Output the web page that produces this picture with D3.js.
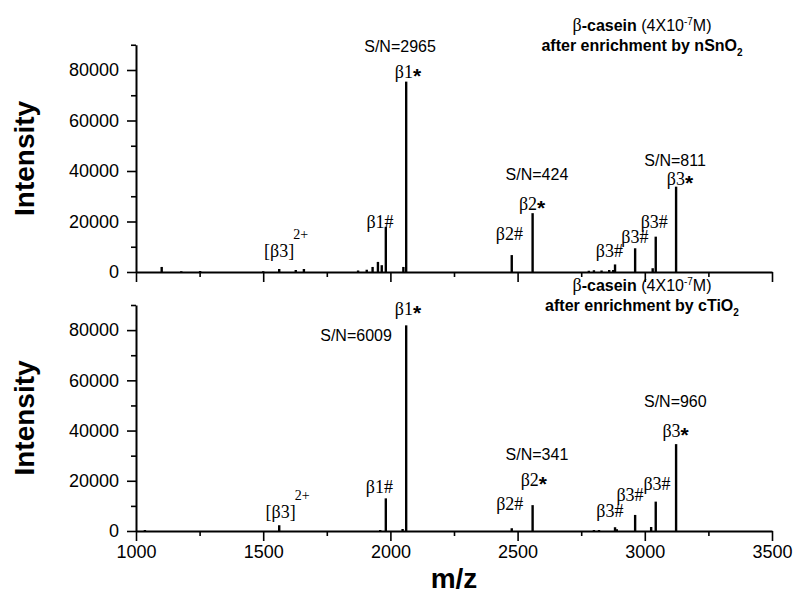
<!DOCTYPE html>
<html>
<head>
<meta charset="utf-8">
<script src="https://cdn.jsdelivr.net/npm/d3@7/dist/d3.min.js"></script>
<style>
  body { margin: 0; background: #fff; }
  text { fill: #000; }
  .serif { font-family: "Liberation Serif", "Times New Roman", Times, serif; }
  .sans { font-family: "Liberation Sans", Arial, Helvetica, sans-serif; }
</style>
</head>
<body>
<svg id="chart" width="794" height="607"></svg>
<script>
// Peaks (m/z, intensity)
var topMz  = [1101, 1178, 1252, 1500, 1563, 1628, 1660, 1873, 1907, 1930, 1951, 1966, 1982, 2051, 2062,
              2477, 2559, 2780, 2800, 2830, 2860, 2876, 2883, 2962, 3031, 3043, 3123];
var topInt = [2000, 300, 400, 300, 1200, 800, 1200, 600, 900, 2000, 4000, 2700, 17900, 2000, 75400,
              6700, 23300, 500, 700, 600, 800, 800, 3000, 9400, 1500, 14000, 33800];

var botMz  = [1035, 1563, 1960, 1982, 2048, 2062, 2477, 2559, 2800, 2820, 2883, 2890, 2962, 3025, 3043, 3123];
var botInt = [400, 2300, 400, 13000, 800, 81900, 1100, 10300, 400, 400, 1500, 700, 6400, 1600, 11700, 34600];

var xMajor = [1000, 1500, 2000, 2500, 3000, 3500];
var xMinor = [1250, 1750, 2250, 2750, 3250];
var yMajor = [0, 20000, 40000, 60000, 80000];
var yMinor = [10000, 30000, 50000, 70000, 90000];

// annotations: text, and the spot (m/z, intensity) where its baseline centre sits
var topLabels   = ['S/N=2965', 'β1*', 'β1#', '[β3]2+', 'β2#', 'β2*', 'S/N=424', 'β3#', 'β3#', 'β3#', 'β3*', 'S/N=811'];
var topLabelMz  = [2038, 2069, 1959, 1590, 2468, 2557, 2576, 2861, 2961, 3037, 3138, 3119];
var topLabelInt = [87100, 76800, 17400, 6060, 12700, 24550, 36430, 6060, 11480, 17540, 34450, 42100];

var botLabels   = ['S/N=6009', 'β1*', 'β1#', '[β3]2+', 'β2#', 'β2*', 'S/N=341', 'β3#', 'β3#', 'β3#', 'β3*', 'S/N=960'];
var botLabelMz  = [1865, 2069, 1957, 1596, 2469, 2564, 2576, 2863, 2942, 3048, 3121, 3120];
var botLabelInt = [75650, 86100, 15100, 5170, 8350, 17900, 28200, 5690, 11930, 16300, 37250, 49400];

var svg = d3.select('#chart');

var x = d3.scaleLinear().domain([1000, 3500]).range([136, 772]);

function addLabel(g, txt, px, py) {
    if (txt.indexOf('S/N') === 0) {
        g.append('text').attr('class', 'sans').attr('x', px).attr('y', py).attr('text-anchor', 'middle')
            .attr('font-size', 16).text(txt);
        return;
    }
    var t = g.append('text').attr('class', 'serif').attr('x', px).attr('y', py).attr('text-anchor', 'middle')
        .attr('font-size', 18);
    if (txt.indexOf('2+') > 0) {
        t.append('tspan').text('[β3]');
        t.append('tspan').attr('dx', -1).attr('dy', -18).attr('font-size', 14).text('2+');
    } else if (txt.slice(-1) === '*') {
        t.append('tspan').text(txt.slice(0, -1));
        t.append('tspan').attr('class', 'sans').attr('dy', 5).attr('font-weight', 'bold')
            .attr('font-size', 21).text('*');
    } else {
        t.text(txt);
    }
}

function drawPanel(mz, ints, yRange, labels, labelMz, labelInt, showTickText, title2) {
    var y = d3.scaleLinear().domain([0, 90000]).range(yRange);
    var g = svg.append('g');
    var y0 = y(0);

    // peaks
    g.selectAll('line.peak').data(mz).enter().append('line')
        .attr('class', 'peak')
        .attr('x1', function(d) { return x(d); })
        .attr('x2', function(d) { return x(d); })
        .attr('y1', y0)
        .attr('y2', function(d, i) { return y(ints[i]); })
        .attr('stroke', '#000').attr('stroke-width', 2.4);

    // x axis
    g.append('g').attr('transform', 'translate(0,' + y0 + ')')
        .call(d3.axisBottom(x).tickValues(xMajor).tickSize(10).tickSizeOuter(0).tickPadding(4)
            .tickFormat(showTickText ? d3.format('d') : function() { return ''; }));
    g.append('g').attr('transform', 'translate(0,' + y0 + ')')
        .call(d3.axisBottom(x).tickValues(xMinor).tickSize(5).tickFormat(''))
        .select('.domain').remove();

    // y axis
    g.append('g').attr('transform', 'translate(' + x(1000) + ',0)')
        .call(d3.axisLeft(y).tickValues(yMajor).tickSize(9).tickSizeOuter(0).tickPadding(8)
            .tickFormat(d3.format('d')));
    g.append('g').attr('transform', 'translate(' + x(1000) + ',0)')
        .call(d3.axisLeft(y).tickValues(yMinor).tickSize(5).tickFormat(''))
        .select('.domain').remove();

    g.selectAll('.domain').attr('stroke-width', 2);
    g.selectAll('.tick line').attr('stroke-width', 1.6);
    g.selectAll('.tick text').attr('class', 'sans').attr('font-size', 18);
    g.selectAll('g').attr('font-family', null);

    // y title
    g.append('text').attr('class', 'sans')
        .attr('transform', 'translate(34,' + (y(45000)) + ') rotate(-90)')
        .attr('text-anchor', 'middle')
        .attr('font-weight', 'bold').attr('font-size', 28)
        .text('Intensity');

    // annotations
    labels.forEach(function(txt, i) {
        addLabel(g, txt, x(labelMz[i]), y(labelInt[i]));
    });

    // sample title
    var tx = 642, ty = y(90000) - 14;
    var t1 = g.append('text').attr('class', 'sans').attr('x', tx).attr('y', ty).attr('text-anchor', 'middle')
        .attr('font-size', 16);
    t1.append('tspan').attr('class', 'serif').attr('font-size', 18).text('β');
    t1.append('tspan').attr('font-weight', 'bold').text('-casein');
    t1.append('tspan').text(' (4X10');
    t1.append('tspan').attr('dy', -6).attr('font-size', 10).text('-7');
    t1.append('tspan').attr('dy', 6).text('M)');

    var t2 = g.append('text').attr('class', 'sans').attr('x', tx).attr('y', ty + 20).attr('text-anchor', 'middle')
        .attr('font-size', 16).attr('font-weight', 'bold');
    t2.append('tspan').text(title2);
    t2.append('tspan').attr('dy', 5).attr('font-size', 10).text('2');
}

drawPanel(topMz, topInt, [272, 44.75], topLabels, topLabelMz, topLabelInt, false, 'after enrichment by nSnO');
drawPanel(botMz, botInt, [531, 305], botLabels, botLabelMz, botLabelInt, true, 'after enrichment by cTiO');

// x title
svg.append('text').attr('class', 'sans').attr('x', x(2250)).attr('y', 588).attr('text-anchor', 'middle')
    .attr('font-weight', 'bold').attr('font-size', 28)
    .text('m/z');
</script>
</body>
</html>
